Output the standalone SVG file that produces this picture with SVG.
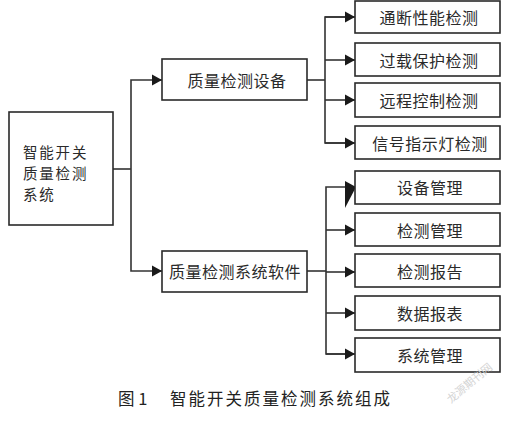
<svg xmlns="http://www.w3.org/2000/svg" width="517" height="426" viewBox="0 0 517 426">
<style>
.box{fill:#fff;stroke:#2a2a2a;stroke-width:1.6}
.t{font-family:"Noto Sans CJK SC","Noto Sans",sans-serif;font-size:16px;fill:#2a2a2a;letter-spacing:0.5px}
.c{text-anchor:middle;dominant-baseline:central}
.l{font-size:14.5px;letter-spacing:1.8px}
.ln{fill:none;stroke:#333;stroke-width:1.6}
.cap{font-family:"Noto Sans CJK SC",serif;font-size:16.5px;fill:#222}
</style>
<defs>
<marker id="ah" markerUnits="userSpaceOnUse" markerWidth="12" markerHeight="12" refX="10" refY="6" orient="auto">
<path d="M0,0.5 L10,6 L0,11.5 Z" fill="#1a1a1a"/>
</marker>
</defs>
<rect width="517" height="426" fill="#fff"/>
<g id="connectors">
<polyline class="ln" points="113,169 131,169"/>
<polyline class="ln" points="152,80 131,80 131,271 152,271"/>
<line class="ln" x1="152" y1="80" x2="162" y2="80" marker-end="url(#ah)"/>
<line class="ln" x1="152" y1="271" x2="162" y2="271" marker-end="url(#ah)"/>
<polyline class="ln" points="307,80 325,80"/>
<polyline class="ln" points="345,17 325,17 325,143 345,143"/>
<line class="ln" x1="325" y1="17" x2="355" y2="17" marker-end="url(#ah)"/>
<line class="ln" x1="325" y1="60" x2="355" y2="60" marker-end="url(#ah)"/>
<line class="ln" x1="325" y1="100" x2="355" y2="100" marker-end="url(#ah)"/>
<line class="ln" x1="325" y1="143" x2="355" y2="143" marker-end="url(#ah)"/>
<polyline class="ln" points="307,271 326,271"/>
<polyline class="ln" points="345,187 326,187 326,354 345,354"/>
<polygon points="345,181 356,187 345,208" fill="#1a1a1a"/>
<line class="ln" x1="326" y1="230" x2="355" y2="230" marker-end="url(#ah)"/>
<line class="ln" x1="326" y1="272" x2="355" y2="272" marker-end="url(#ah)"/>
<line class="ln" x1="326" y1="313" x2="355" y2="313" marker-end="url(#ah)"/>
<line class="ln" x1="326" y1="354" x2="355" y2="354" marker-end="url(#ah)"/>
</g>
<g id="root">
<rect class="box" x="9" y="112" width="104" height="113"/>
<text class="t l" x="23" y="158">智能开关</text>
<text class="t l" x="23" y="179">质量检测</text>
<text class="t l" x="23" y="200">系统</text>
</g>
<g id="equip">
<rect class="box" x="162" y="59" width="145" height="41"/>
<text class="t c" x="237" y="80">质量检测设备</text>
</g>
<g id="software">
<rect class="box" x="162" y="251" width="145" height="41"/>
<text class="t c" x="235" y="271">质量检测系统软件</text>
</g>
<g id="e1"><rect class="box" x="355" y="1" width="145" height="32"/><text class="t c" x="429" y="17">通断性能检测</text></g>
<g id="e2"><rect class="box" x="355" y="43" width="145" height="33"/><text class="t c" x="429" y="60">过载保护检测</text></g>
<g id="e3"><rect class="box" x="355" y="83" width="145" height="34"/><text class="t c" x="429" y="100">远程控制检测</text></g>
<g id="e4"><rect class="box" x="355" y="126" width="145" height="33"/><text class="t c" x="430" y="143">信号指示灯检测</text></g>
<g id="s1"><rect class="box" x="355" y="171" width="145" height="33"/><text class="t c" x="430" y="187">设备管理</text></g>
<g id="s2"><rect class="box" x="355" y="213" width="145" height="33"/><text class="t c" x="430" y="230">检测管理</text></g>
<g id="s3"><rect class="box" x="355" y="254" width="145" height="33"/><text class="t c" x="430" y="271">检测报告</text></g>
<g id="s4"><rect class="box" x="355" y="296" width="145" height="34"/><text class="t c" x="430" y="313">数据报表</text></g>
<g id="s5"><rect class="box" x="355" y="338" width="145" height="34"/><text class="t c" x="430" y="355">系统管理</text></g>
<text class="cap" x="118" y="405">图 1</text>
<text class="cap" x="170" y="405" letter-spacing="2">智能开关质量检测系统组成</text>
<text x="472" y="386" font-family="Noto Sans CJK SC,sans-serif" font-size="11" fill="#d4d4d4" text-anchor="middle" transform="rotate(-40 472 386)">龙源期刊网</text>
</svg>
